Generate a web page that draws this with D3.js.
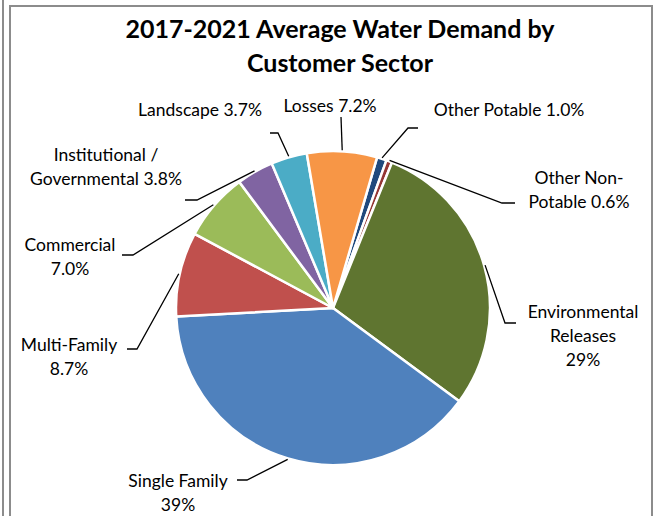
<!DOCTYPE html>
<html>
<head>
<meta charset="utf-8">
<script src="https://cdn.jsdelivr.net/npm/d3@7"></script>
<style>
  html, body { margin: 0; padding: 0; background: #fff; }
  svg { display: block; }
  text { font-family: Lato, "Open Sans", sans-serif; fill: #000; }
</style>
</head>
<body>
<svg id="chart" width="654" height="516"></svg>
<script>
// ── Data ─────────────────────────────────────────────────────────────────────
const sectors = ['Other Potable', 'Other Non-Potable', 'Environmental Releases', 'Single Family',
                 'Multi-Family', 'Commercial', 'Institutional / Governmental', 'Landscape', 'Losses'];
const shares = [1.0, 0.6, 29, 39, 8.7, 7.0, 3.8, 3.7, 7.2];
const labelLines = [
    ['Other Potable 1.0%'],
    ['Other Non-', 'Potable 0.6%'],
    ['Environmental', 'Releases', '29%'],
    ['Single Family', '39%'],
    ['Multi-Family', '8.7%'],
    ['Commercial', '7.0%'],
    ['Institutional /', 'Governmental 3.8%'],
    ['Landscape 3.7%'],
    ['Losses 7.2%']
];
const colors = ['#1F497D', '#943634', '#5F7530', '#4F81BD', '#C0504D', '#9BBB59', '#8064A2', '#4BACC6', '#F79646'];

// label placement: text centre x, first baseline y, leader end + elbow
const LABEL_POS = [
    { x: 509, y: 116, end: [418, 128], elbow: [408, 128] },
    { x: 579, y: 184, end: [515, 203], elbow: [502, 203] },
    { x: 583, y: 318, end: [516, 323], elbow: [505, 323] },
    { x: 178, y: 487, end: [237, 480], elbow: [247, 480] },
    { x: 69,  y: 351, end: [127, 349], elbow: [137, 349] },
    { x: 70,  y: 251, end: [122, 255], elbow: [133, 255] },
    { x: 106, y: 161, end: [185, 200], elbow: [197, 200] },
    { x: 200, y: 116, end: [270, 133], elbow: [278, 133] },
    { x: 330, y: 112, end: [341, 117], elbow: null }
];

const CX = 333, CY = 308, R = 157;
const START = 16.3 * Math.PI / 180;
const LINE_H = 24;

const svg = d3.select('#chart');

// ── Frame ────────────────────────────────────────────────────────────────────
svg.append('line').attr('x1', 3).attr('x2', 3).attr('y1', 0).attr('y2', 516)
    .attr('stroke', '#8c8c8c').attr('stroke-width', 2);
svg.append('path')
    .attr('d', 'M10,516 V6 H652 V516')
    .attr('fill', 'none').attr('stroke', '#8c8c8c').attr('stroke-width', 2);

// ── Title ────────────────────────────────────────────────────────────────────
const title = svg.append('text')
    .attr('text-anchor', 'middle')
    .attr('font-weight', 'bold')
    .attr('font-size', 25);
title.append('tspan').attr('x', 340).attr('y', 38).text('2017-2021 Average Water Demand by');
title.append('tspan').attr('x', 340).attr('y', 72).text('Customer Sector');

// ── Pie ──────────────────────────────────────────────────────────────────────
const data = sectors.map((s, i) => ({ sector: s, value: shares[i], i }));
const pie = d3.pie().sort(null).value(d => d.value)
    .startAngle(START).endAngle(START + 2 * Math.PI);
const arcs = pie(data);
const arc = d3.arc().innerRadius(0).outerRadius(R);

const g = svg.append('g').attr('transform', `translate(${CX},${CY})`);
g.selectAll('path.slice')
    .data(arcs)
    .join('path')
    .attr('class', 'slice')
    .attr('d', arc)
    .attr('fill', d => colors[d.data.i])
    .attr('stroke', '#fff')
    .attr('stroke-width', 2.5)
    .attr('stroke-linejoin', 'round');

// ── Leader lines ─────────────────────────────────────────────────────────────
arcs.forEach(d => {
    const p = LABEL_POS[d.data.i];
    const mid = (d.startAngle + d.endAngle) / 2;
    const sx = CX + (R + 1) * Math.sin(mid);
    const sy = CY - (R + 1) * Math.cos(mid);
    const pts = [p.end];
    if (p.elbow) pts.push(p.elbow);
    pts.push([sx, sy]);
    svg.append('path')
        .attr('d', d3.line()(pts))
        .attr('fill', 'none')
        .attr('stroke', '#000')
        .attr('stroke-width', 1.3);
});

// ── Labels ───────────────────────────────────────────────────────────────────
labelLines.forEach((lines, i) => {
    const p = LABEL_POS[i];
    const t = svg.append('text')
        .attr('text-anchor', 'middle')
        .attr('font-size', 17.5);
    lines.forEach((ln, k) => {
        t.append('tspan').attr('x', p.x).attr('y', p.y + k * LINE_H).text(ln);
    });
});
</script>
</body>
</html>
